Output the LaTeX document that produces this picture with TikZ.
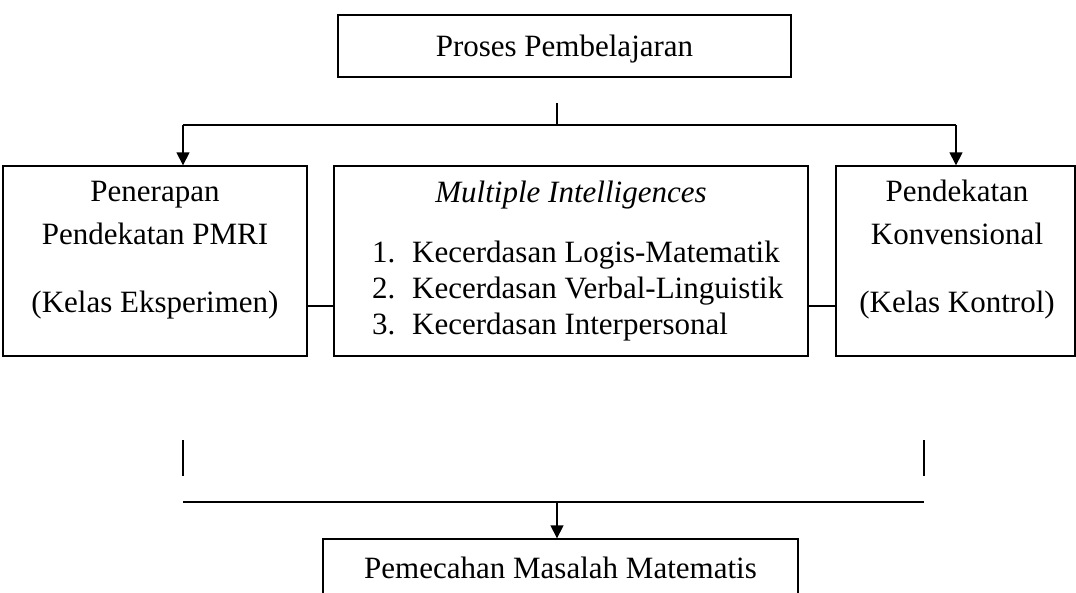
\documentclass[tikz,border=0pt]{standalone}
\usepackage{fontspec}
\setmainfont{Liberation Serif}
\usetikzlibrary{arrows.meta}
\begin{document}
\begin{tikzpicture}[x=1pt,y=-1pt,
  box/.style={draw,line width=1.4pt,inner sep=0pt},
  conn/.style={line width=1.6pt},
  arr/.style={conn,-{Triangle[width=13pt,length=13pt]}},
  txt/.style={anchor=base,inner sep=0pt,font=\fontsize{31}{36}\selectfont},
  ltxt/.style={anchor=base west,inner sep=0pt,font=\fontsize{31}{36}\selectfont}]
\clip (0,0) rectangle (1076,592);
% boxes
\node[box,minimum width=453pt,minimum height=62pt] (top) at (564.5,46) {};
\node[box,minimum width=304pt,minimum height=190pt] (left) at (155,261) {};
\node[box,minimum width=474pt,minimum height=190pt] (mid) at (571,261) {};
\node[box,minimum width=239pt,minimum height=190pt] (right) at (955.5,261) {};
\node[box,minimum width=475pt,minimum height=80pt] (bottom) at (560.5,579) {};
% texts
\node[txt] (ttop) at (564.5,56) {Proses Pembelajaran};
\node[txt] (tl1) at (155,201) {Penerapan};
\node[txt] (tl2) at (155,244) {Pendekatan PMRI};
\node[txt] (tl3) at (155,312) {(Kelas Eksperimen)};
\node[txt] (tm0) at (571,202) {\itshape Multiple Intelligences};
\node[ltxt] (n1) at (372,262) {1.};
\node[ltxt] (i1) at (412,262) {Kecerdasan Logis-Matematik};
\node[ltxt] (n2) at (372,298) {2.};
\node[ltxt] (i2) at (412,298) {Kecerdasan Verbal-Linguistik};
\node[ltxt] (n3) at (372,334) {3.};
\node[ltxt] (i3) at (412,334) {Kecerdasan Interpersonal};
\node[txt] (tr1) at (957,201) {Pendekatan};
\node[txt] (tr2) at (957,244) {Konvensional};
\node[txt] (tr3) at (957,312) {(Kelas Kontrol)};
\node[txt] (tb) at (560.5,578) {Pemecahan Masalah Matematis};
% connector coordinates
\coordinate (stubT) at (557,103);
\coordinate (hubT) at (557,125);
\coordinate (hL) at (183,125);
\coordinate (hR) at (956,125);
\coordinate (cY) at (0,306);
\coordinate (bL1) at (183,440);
\coordinate (bL2) at (183,476);
\coordinate (bR1) at (924,440);
\coordinate (bR2) at (924,476);
\coordinate (hbL) at (183,502);
\coordinate (hbR) at (924,502);
\coordinate (hbM) at (557,502);
% connectors
\draw[conn] (stubT) -- (hubT);
\draw[conn] (hL) -- (hR);
\draw[arr] (hL) -- (hL |- left.north);
\draw[arr] (hR) -- (hR |- right.north);
\draw[conn] (left.east |- cY) -- (mid.west |- cY);
\draw[conn] (mid.east |- cY) -- (right.west |- cY);
\draw[conn] (bL1) -- (bL2);
\draw[conn] (bR1) -- (bR2);
\draw[conn] (hbL) -- (hbR);
\draw[arr] (hbM) -- (hbM |- bottom.north);
\end{tikzpicture}
\end{document}
